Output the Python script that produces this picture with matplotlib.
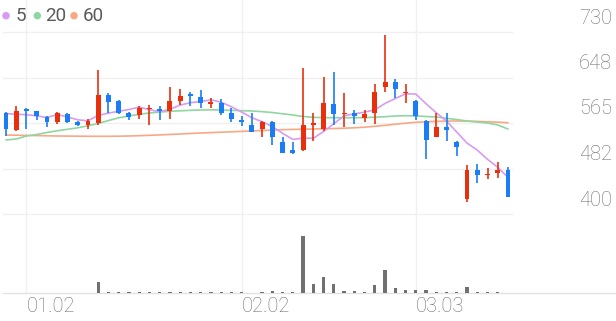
import matplotlib
matplotlib.use('Agg')
import matplotlib.pyplot as plt
import matplotlib.transforms as mtrans
import numpy as np

# ---------------- data ----------------
opens = [584, 552, 591, 586, 575, 567, 581, 567, 561, 565, 615, 605, 584, 579, 590, 591, 587, 604, 617, 613,
         600, 602, 583, 570, 561, 554, 566, 530, 516, 516, 561, 555, 599, 581, 584, 574, 584, 630, 639, 619,
         605, 569, 540, 557, 531, 427, 480, 470, 475, 479]
highs = [585, 596, 592, 587, 577, 585, 583, 569, 572, 661, 619, 607, 585, 595, 598, 596, 631, 626, 621, 625,
         610, 608, 593, 578, 584, 569, 568, 540, 530, 665, 584, 649, 657, 619, 589, 589, 636, 725, 645, 635,
         607, 570, 583, 584, 532, 488, 490, 483, 495, 486]
lows = [541, 550, 555, 570, 558, 564, 565, 560, 555, 561, 583, 581, 570, 572, 561, 570, 573, 598, 595, 592,
        593, 580, 566, 560, 549, 540, 525, 510, 509, 515, 532, 550, 561, 557, 563, 567, 564, 622, 611, 602,
        570, 499, 539, 533, 505, 422, 457, 463, 465, 430]
closes = [555, 587, 587, 578, 567, 583, 566, 561, 569, 616, 603, 583, 576, 592, 592, 586, 604, 614, 614, 601,
          603, 583, 572, 566, 549, 566, 539, 511, 511, 561, 565, 601, 581, 583, 578, 581, 622, 639, 627, 622,
          578, 534, 557, 552, 522, 479, 471, 473, 480, 430]
volumes = [40, 40, 40, 40, 40, 40, 40, 40, 40, 550, 75, 50, 50, 50, 50, 50, 65, 50, 50, 60,
           50, 50, 50, 50, 40, 50, 100, 50, 50, 2885, 450, 800, 450, 115, 100, 65, 415, 1165, 250, 185,
           150, 150, 50, 50, 50, 335, 85, 50, 50, 35]
ma5 = [582, 581, 580, 578, 574.9, 580.3, 576.0, 570.8, 569.0, 578.8, 582.9, 586.3, 589.4, 593.9, 589.1, 585.6,
       589.9, 597.4, 601.9, 603.7, 607.1, 602.8, 594.4, 584.9, 574.6, 567.3, 558.6, 546.3, 535.2, 537.7, 537.3,
       549.6, 563.7, 578.1, 581.5, 584.7, 588.9, 600.5, 609.3, 618.0, 617.5, 599.9, 583.5, 568.5, 548.5, 528.6,
       515.9, 499.1, 484.7, 466.4]
ma20 = [534.2, 536.0, 541.4, 544.1, 547.8, 550.9, 553.6, 556.3, 559.9, 564.1, 569.5, 574.4, 577.7, 580.8, 583.1,
        584.9, 586.2, 587.1, 588.0, 588.6, 588.9, 588.6, 588.0, 587.3, 586.8, 585.5, 584.0, 581.7, 579.5, 576.8,
        575.3, 574.8, 574.6, 574.6, 574.6, 574.8, 575.5, 576.4, 577.7, 578.2, 577.7, 576.8, 575.9, 573.5, 571.3,
        568.6, 566.8, 565.0, 561.4, 554.1]
ma60 = [543.2, 542.9, 542.5, 542.2, 541.8, 541.4, 541.3, 541.1, 540.9, 540.9, 540.9, 541.1, 541.4, 542.0, 542.7,
        543.4, 544.3, 545.0, 546.0, 546.9, 547.6, 548.3, 549.0, 549.8, 550.7, 551.4, 552.1, 552.9, 553.4, 553.8,
        554.1, 554.5, 555.0, 555.6, 556.3, 557.4, 559.0, 560.8, 562.8, 564.6, 566.3, 567.2, 567.9, 568.4, 568.6,
        568.4, 567.9, 567.2, 566.5, 565.5]
tick_idx = [2, 23, 40]
tick_labels = ['01.02', '02.02', '03.03']
ytick_vals = [400, 482.5, 565, 647.5, 730]
ytick_labels = ['400', '482', '565', '648', '730']
legend_labels = ['5', '20', '60']

# ---------------- style ----------------
RED = '#e8300e'
BLUE = '#1a7df5'
MA_COLORS = ['#d79cf2', '#90d6a0', '#f8a884']
GRID = '#f0f0f0'
TXT = '#707070'
plt.rcParams['font.family'] = ['Roboto', 'DejaVu Sans']

W, H = 616, 321
fig = plt.figure(figsize=(W / 100, H / 100), dpi=100)


def axes_px(l, t, r, b, **kw):
    return fig.add_axes([l / W, 1 - b / H, (r - l) / W, (b - t) / H], **kw)


x0, step = 6.0, 10.245
L, R = 3, 512
xlim = ((L - x0) / step, (R - x0) / step)
n = len(closes)
x = np.arange(n)

# background axes for vertical grid
axbg = axes_px(L, 0, R, 293.3)
axbg.set_xlim(*xlim)
axbg.set_ylim(0, 1)
axbg.axis('off')
for t in tick_idx:
    axbg.axvline(t, color=GRID, lw=1.0, zorder=0)

# price axes
ax = axes_px(L, 32, R, 214)
ax.set_xlim(*xlim)
ax.set_ylim(ytick_vals[0], ytick_vals[-1])
ax.patch.set_alpha(0)
for s in ax.spines.values():
    s.set_visible(False)
ax.set_xticks([])
ax.set_yticks([])
for v in ytick_vals:
    ax.axhline(v, color=GRID, lw=1.0, zorder=0, clip_on=False)

for vals, c in zip([ma60, ma20, ma5], MA_COLORS[::-1]):
    ax.plot(x, vals, color=c, lw=1.2, zorder=2, solid_capstyle='round')

o = np.array(opens, float)
c = np.array(closes, float)
hi = np.array(highs, float)
lo = np.array(lows, float)
cols = [RED if cc > oo else BLUE for oo, cc in zip(o, c)]
ax.vlines(x, lo, hi, colors=cols, lw=1.2, zorder=3)
bottoms = np.minimum(o, c)
heights = np.maximum(np.abs(c - o), 2.5)
ax.bar(x, heights, bottom=bottoms, width=0.48, color=cols, zorder=4, linewidth=0)

# y tick labels (right side, above gridlines)
lab_trans = mtrans.blended_transform_factory(fig.transFigure, ax.transData)
lab_trans = lab_trans + mtrans.ScaledTranslation(0, 14 / 100, fig.dpi_scale_trans)
for v, lab in zip(ytick_vals, ytick_labels):
    fig.text(612 / W, v, lab, transform=lab_trans, ha='right', va='center',
             fontsize=14.5, color=TXT, fontweight='light')

# volume axes
axv = axes_px(L, 225, R, 293.3)
axv.set_xlim(*xlim)
axv.set_ylim(0, max(volumes) * 68.3 / 57.7)
axv.patch.set_alpha(0)
for s in axv.spines.values():
    s.set_visible(False)
axv.set_yticks([])
axv.bar(x, volumes, width=0.32, color='#707070', linewidth=0, zorder=3)
axv.axhline(0, xmin=0, xmax=(W - L) / (R - L), color='#e2e2e2', lw=1.0, clip_on=False, zorder=1)
axv.set_xticks(tick_idx)
axv.set_xticklabels(tick_labels)
axv.tick_params(axis='x', length=0, pad=3, labelsize=14.5, labelcolor=TXT)
for tl in axv.get_xticklabels():
    tl.set_ha('left')
    tl.set_fontweight('light')

# legend
leg_y = 1 - 15.7 / H
cx = [6, 37.3, 74]
tx = [15.5, 45.5, 82.5]
for ccx, ttx, col, lab in zip(cx, tx, MA_COLORS, legend_labels):
    fig.add_artist(matplotlib.patches.Ellipse((ccx / W, leg_y), 7.5 / W, 7.5 / H,
                                              transform=fig.transFigure, color=col, lw=0))
    fig.text(ttx / W, leg_y, lab, ha='left', va='center', fontsize=13.5, color='#5a5a5a')

fig.savefig('out.png', dpi=100)
